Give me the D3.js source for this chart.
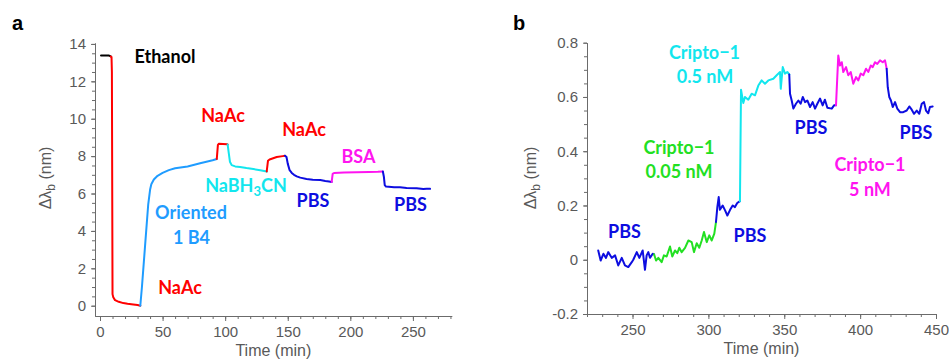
<!DOCTYPE html>
<html>
<head>
<meta charset="utf-8">
<script src="https://cdn.jsdelivr.net/npm/d3@7"></script>
<style>
  html, body { margin: 0; padding: 0; background: #fff; }
  svg { display: block; }
  .tick text { font-family: "Liberation Sans", Arial, sans-serif; font-size: 15px; fill: #595959; }
  .axis path, .axis line { stroke: #6b6b6b; stroke-width: 1; }
  .note { font-family: Lato, "Open Sans", sans-serif; font-weight: 700; font-size: 18px; }
  .title { font-family: "Liberation Sans", Arial, sans-serif; font-size: 16px; fill: #595959; }
  .panel { font-family: "Liberation Sans", Arial, sans-serif; font-weight: 700; font-size: 20px; fill: #000; }
</style>
</head>
<body>
<svg id="chart" width="949" height="362"></svg>
<script>
// ---------- Panel a: immobilisation sequence, [time (min), shift (nm)] ----------
const ethanolA   = [[0.8, 13.38], [7.2, 13.38], [8.6, 13.33]];
const naAcA1     = [[8.6, 13.33], [9.2, 13.3], [9.5, 12.5], [10.0, 0.62], [10.6, 0.45], [12, 0.3], [15, 0.21],
                    [18.6, 0.14], [22, 0.1], [26.6, 0.07], [30, 0.04], [32.2, 0.0]];
const orientedA  = [[32.2, 0.0], [33.5, 1.0], [36, 3.2], [38.5, 5.4], [40, 6.2], [41, 6.5], [43, 6.75], [46, 6.95],
                    [50, 7.1], [55, 7.25], [60, 7.35], [70, 7.45], [80, 7.62], [90, 7.78], [93.3, 7.85]];
const naAcA2     = [[93.3, 7.85], [94.2, 8.6], [95, 8.66], [101.5, 8.64], [102, 8.62]];
const cyanoA     = [[102, 8.62], [102.8, 8.2], [103.8, 7.7], [105.2, 7.52], [108, 7.45], [111.9, 7.42], [117, 7.36],
                    [122.5, 7.31], [128, 7.24], [133.2, 7.18]];
const naAcA3     = [[133.2, 7.18], [134.2, 7.75], [135.5, 7.82], [141.2, 7.95], [146, 8.0], [147.8, 8.02]];
const pbsA1      = [[147.8, 8.02], [149, 7.95], [150, 7.6], [151.5, 7.25], [153.2, 7.1], [155, 7.0], [157.2, 6.92],
                    [160, 6.85], [165, 6.78], [170, 6.74], [176, 6.72], [180, 6.67], [183, 6.64], [185.1, 6.62]];
const bsaA       = [[185.1, 6.62], [185.9, 7.05], [187, 7.1], [195, 7.12], [205, 7.14], [215, 7.15], [222, 7.16], [226, 7.18]];
const pbsA2      = [[226, 7.18], [226.8, 6.9], [227.5, 6.45], [228.5, 6.37], [235, 6.34], [239.7, 6.33], [245, 6.3],
                    [253, 6.28], [258.3, 6.24], [261, 6.26], [263.7, 6.25]];

// ---------- Panel b: Cripto-1 detection, [time (min), shift (nm)] ----------
const pbsB1 = [[227.4, 0.034], [229, -0.003], [230.8, 0.022], [232.5, 0.007], [234, 0.028], [236.3, 0.007],
               [238.5, 0.016], [240.6, -0.021], [242.9, 0.007], [245, -0.021], [247.2, -0.027], [249.5, -0.009],
               [250.5, 0], [252.8, 0.028], [254.5, 0.007], [256.7, 0.034], [258.2, -0.037], [259.3, 0.016],
               [260.4, 0.028], [261.5, 0.007], [263.3, 0.022], [264.2, 0.02]];
const cripto005 = [[264.2, 0.02], [265.5, -0.003], [267, 0.007], [269.2, -0.009], [270.7, 0.016], [272.5, 0.012],
               [274.7, 0.049], [276.2, 0.012], [278, 0.034], [279.5, 0.024], [280.8, 0.044], [282.4, 0.028],
               [284.6, 0.044], [286.8, 0.071], [289, 0.065], [290.5, 0.028], [292.3, 0.061], [294, 0.044],
               [295.6, 0.071], [297.1, 0.102], [298.9, 0.065], [300.6, 0.09], [302.2, 0.071], [303.9, 0.096], [305, 0.139]];
const pbsB2 = [[305, 0.139], [305.9, 0.194], [306.8, 0.231], [307.6, 0.184], [309.4, 0.2], [311, 0.182],
               [312.5, 0.163], [314.3, 0.184], [316, 0.2], [317.5, 0.194], [319, 0.209], [320.8, 0.216]];
const cripto05 = [[320.8, 0.216], [321.5, 0.627], [323, 0.578], [324.1, 0.6], [326.3, 0.59], [328.5, 0.612],
               [330.7, 0.606], [332.9, 0.642], [335.1, 0.661], [337.3, 0.649], [339.5, 0.661], [342.8, 0.667],
               [345, 0.68], [347.2, 0.692], [347.7, 0.63], [349, 0.71], [350.5, 0.686], [352, 0.692], [353.3, 0.683]];
const pbsB3 = [[353.3, 0.683], [353.8, 0.612], [354.9, 0.587], [356, 0.557], [357.7, 0.575], [359.3, 0.587],
               [360.8, 0.575], [362.2, 0.6], [363.7, 0.581], [365.2, 0.587], [367, 0.563], [368.7, 0.581],
               [370.3, 0.557], [371.8, 0.575], [373.6, 0.594], [375.3, 0.569], [376.8, 0.59], [378.4, 0.56],
               [381.3, 0.557], [382.8, 0.569], [384.1, 0.569]];
const cripto5 = [[384.1, 0.569], [385.6, 0.753], [386.7, 0.716], [387.9, 0.728], [388.9, 0.692], [390.7, 0.71],
               [392.2, 0.68], [393.8, 0.692], [395.5, 0.649], [397.3, 0.673], [398.8, 0.661], [400.4, 0.686],
               [402.1, 0.68], [403.9, 0.704], [405.4, 0.692], [407, 0.716], [408.3, 0.71], [409.8, 0.728],
               [411.3, 0.722], [413.1, 0.735], [414.9, 0.728], [416.4, 0.735], [417.5, 0.704]];
const pbsB4 = [[417.5, 0.704], [418.2, 0.636], [419.2, 0.6], [420.3, 0.587], [421.5, 0.563], [423, 0.581],
               [424.5, 0.557], [426.3, 0.544], [428.4, 0.544], [430.7, 0.55], [432.4, 0.565], [434, 0.553],
               [435.5, 0.538], [437.3, 0.55], [439, 0.538], [440.6, 0.575], [442.1, 0.581], [443.4, 0.55],
               [444.9, 0.54], [446, 0.563], [447.8, 0.565]];

// ---------- Tick values ----------
const xTicksA = [0, 50, 100, 150, 200, 250];
const yTicksA = [0, 2, 4, 6, 8, 10, 12, 14];
const xTicksB = [250, 300, 350, 400, 450];
const yTicksB = [-0.2, 0, 0.2, 0.4, 0.6, 0.8];
const yTickLabelsB = ["-0.2", "0", "0.2", "0.4", "0.6", "0.8"];

// ---------- Colours ----------
const C = {
  black: "#000000", red: "#ff0000", sky: "#1f9cff", cyan: "#12e6ee",
  blue: "#0d0de0", magenta: "#ff14f0", green: "#22e022"
};

const svg = d3.select("#chart");

function drawPanel(opt) {
  const x = d3.scaleLinear().domain(opt.xDomain).range(opt.xRange);
  const y = d3.scaleLinear().domain(opt.yDomain).range(opt.yRange);
  const g = svg.append("g");
  const bottom = opt.yRange[0], left = opt.xRange[0];

  // minor ticks
  g.append("g").attr("class", "axis").attr("transform", `translate(0,${bottom})`)
    .call(d3.axisBottom(x).tickValues(opt.xMinor).tickSize(3).tickSizeOuter(0).tickFormat(""));
  g.append("g").attr("class", "axis").attr("transform", `translate(${left},0)`)
    .call(d3.axisLeft(y).tickValues(opt.yMinor).tickSize(3).tickSizeOuter(0).tickFormat(""));
  // major ticks
  g.append("g").attr("class", "axis").attr("transform", `translate(0,${bottom})`)
    .call(d3.axisBottom(x).tickValues(opt.xTicks).tickSize(5).tickSizeOuter(0).tickPadding(5)
      .tickFormat(d3.format("d")));
  g.append("g").attr("class", "axis").attr("transform", `translate(${left},0)`)
    .call(d3.axisLeft(y).tickValues(opt.yTicks).tickSize(4).tickSizeOuter(0).tickPadding(5)
      .tickFormat((d, i) => opt.yLabels ? opt.yLabels[i] : d));

  const line = d3.line().x(d => x(d[0])).y(d => y(d[1]));
  opt.series.forEach(s => {
    g.append("path").datum(s.data).attr("d", line)
      .attr("fill", "none").attr("stroke", s.color).attr("stroke-width", 2)
      .attr("stroke-linejoin", "round").attr("stroke-linecap", "round");
  });

  // axis titles
  g.append("text").attr("class", "title").attr("text-anchor", "middle")
    .attr("x", (opt.xRange[0] + opt.xRange[1]) / 2).attr("y", opt.xTitleY).text("Time (min)");
  const yt = g.append("text").attr("class", "title").attr("text-anchor", "middle")
    .attr("transform", `translate(${opt.yTitleX},${opt.yTitleY}) rotate(-90)`);
  yt.append("tspan").text("\u0394\u03bb");
  yt.append("tspan").attr("dy", 4).attr("font-size", 12).text("b");
  yt.append("tspan").attr("dy", -4).text(" (nm)");

  // annotations
  opt.notes.forEach(n => {
    const t = g.append("text").attr("class", "note").attr("text-anchor", "middle")
      .attr("x", n.x).attr("y", n.y).attr("dy", "0.35em").attr("fill", n.color);
    if (n.sub) {
      t.append("tspan").text(n.text[0]);
      t.append("tspan").attr("dy", 4).attr("font-size", 13).text(n.sub);
      t.append("tspan").attr("dy", -4).text(n.text[1]);
    } else {
      t.text(n.text);
    }
  });

  svg.append("text").attr("class", "panel").attr("x", opt.letterX).attr("y", 30).text(opt.letter);
}

drawPanel({
  letter: "a", letterX: 12,
  xDomain: [-4, 281], xRange: [95, 451.7],
  yDomain: [-0.55, 14.05], yRange: [316, 43],
  xTicks: xTicksA, xMinor: d3.range(0, 281, 10),
  yTicks: yTicksA, yMinor: d3.range(0, 14.01, 0.5),
  xTitleY: 356, yTitleX: 51, yTitleY: 178,
  series: [
    { data: ethanolA, color: C.black }, { data: naAcA1, color: C.red },
    { data: orientedA, color: C.sky }, { data: naAcA2, color: C.red },
    { data: cyanoA, color: C.cyan }, { data: naAcA3, color: C.red },
    { data: pbsA1, color: C.blue }, { data: bsaA, color: C.magenta },
    { data: pbsA2, color: C.blue }
  ],
  notes: [
    { text: "Ethanol", x: 165, y: 57, color: C.black },
    { text: "NaAc", x: 223, y: 116, color: C.red },
    { text: "NaAc", x: 304, y: 130, color: C.red },
    { text: ["NaBH", "CN"], sub: "3", x: 246, y: 186, color: C.cyan },
    { text: "PBS", x: 313, y: 201, color: C.blue },
    { text: "Oriented", x: 191, y: 213, color: C.sky },
    { text: "1 B4", x: 191.5, y: 238, color: C.sky },
    { text: "NaAc", x: 180, y: 288, color: C.red },
    { text: "BSA", x: 358.5, y: 157, color: C.magenta },
    { text: "PBS", x: 410.5, y: 205, color: C.blue }
  ]
});

drawPanel({
  letter: "b", letterX: 513,
  xDomain: [220, 450], xRange: [587, 936],
  yDomain: [-0.2, 0.8], yRange: [314, 42.7],
  xTicks: xTicksB, xMinor: d3.range(220, 451, 10),
  yTicks: yTicksB, yLabels: yTickLabelsB, yMinor: d3.range(-0.2, 0.801, 0.05),
  xTitleY: 354, yTitleX: 536, yTitleY: 178,
  series: [
    { data: pbsB1, color: C.blue }, { data: cripto005, color: C.green },
    { data: pbsB2, color: C.blue }, { data: cripto05, color: C.cyan },
    { data: pbsB3, color: C.blue }, { data: cripto5, color: C.magenta },
    { data: pbsB4, color: C.blue }
  ],
  notes: [
    { text: "PBS", x: 624.5, y: 232, color: C.blue },
    { text: "Cripto\u22121", x: 679, y: 148, color: C.green },
    { text: "0.05 nM", x: 679, y: 172, color: C.green },
    { text: "Cripto\u22121", x: 704.5, y: 53, color: C.cyan },
    { text: "0.5 nM", x: 705, y: 77, color: C.cyan },
    { text: "PBS", x: 750, y: 236, color: C.blue },
    { text: "PBS", x: 811, y: 128, color: C.blue },
    { text: "Cripto\u22121", x: 870, y: 165, color: C.magenta },
    { text: "5 nM", x: 870, y: 190, color: C.magenta },
    { text: "PBS", x: 916, y: 133, color: C.blue }
  ]
});
</script>
</body>
</html>
